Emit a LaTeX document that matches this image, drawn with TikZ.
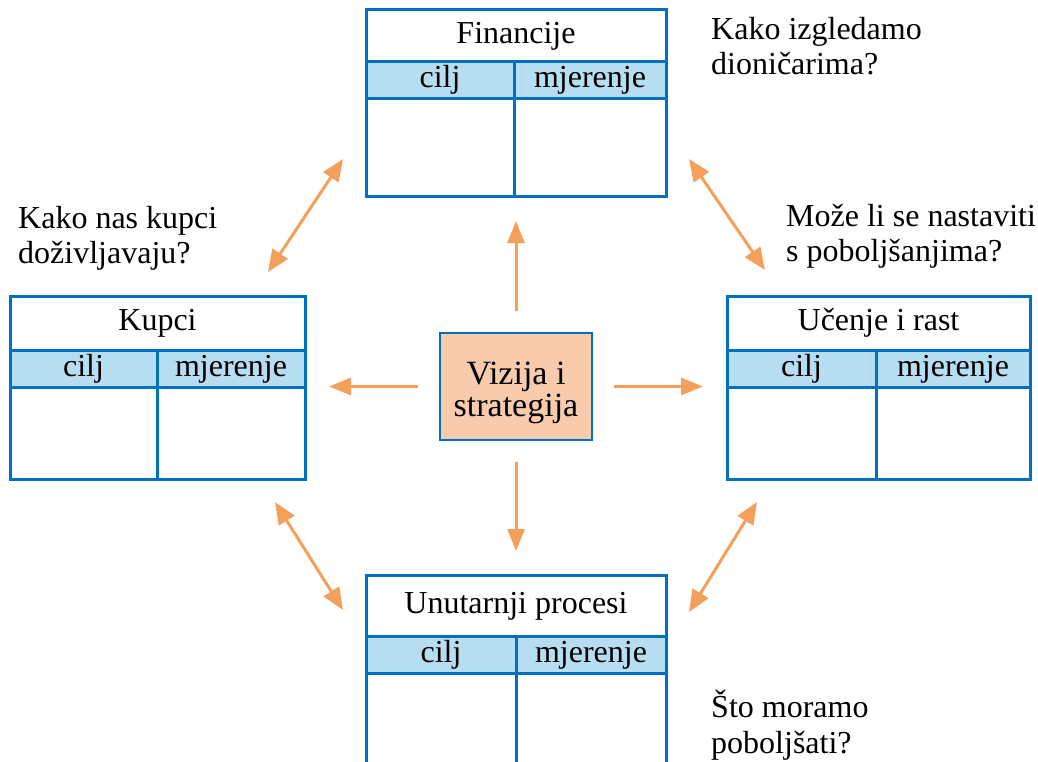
\documentclass[tikz,border=0pt]{standalone}
\usepackage{fontspec}
\setmainfont{Liberation Serif}
\usetikzlibrary{arrows.meta}
\usetikzlibrary{positioning}
\definecolor{bscblue}{RGB}{0,112,192}
\definecolor{bschead}{RGB}{183,222,240}
\definecolor{bscpeach}{RGB}{248,203,173}
\definecolor{bscorange}{RGB}{245,160,90}
\tikzset{
  % one cell of a scorecard table
  cell/.style = {
    draw = bscblue,
    line width = 3pt,
    inner sep = 0,
    outer sep = 0,
    text height = 22pt,
    text depth = 7pt,
    font = \fontsize{32}{37}\selectfont
  },
  % table title
  ttl/.style = {
    cell,
    minimum width = 300pt,
    minimum height = 54pt
  },
  % column header
  head/.style = {
    cell,
    fill = bschead,
    minimum height = 37pt
  },
  % empty body cell
  body/.style = {
    cell,
    minimum height = 94pt
  },
  colL/.style = {minimum width = 148pt},
  colR/.style = {minimum width = 152pt},
  % centre box
  vision/.style = {
    draw = bscblue,
    line width = 2.5pt,
    fill = bscpeach,
    minimum width = 152pt,
    minimum height = 107pt,
    align = center,
    inner sep = 0,
    font = \fontsize{34}{32}\selectfont
  },
  % question beside a table
  quest/.style = {
    align = left,
    anchor = north west,
    inner sep = 0,
    font = \fontsize{32}{35.5}\selectfont
  }
}
\tikzset {
  flow/.style = {
    draw = bscorange,
    line width = 3pt,
    -{Triangle[length=22pt,width=17pt]},
    shorten <= 21pt,
    shorten >= 24pt
  },
  % double headed link between tables
  link/.style = {
    draw = bscorange,
    line width = 3pt,
    {Triangle[length=22pt,width=18pt]}-{Triangle[length=22pt,width=18pt]}
  }
}

\begin{document}
\begin{tikzpicture}[x=1pt, y=1pt]
    \clip (0,0) rectangle (1038,-762);

    % Financije
    \node[ttl, minimum height=52pt] (fin) at (516,-36) {Financije};
    \node[head, colL, below right=0pt and 0pt of fin.south west] (fin-cilj) {cilj};
    \node[head, colR, below left=0pt and 0pt of fin.south east] (fin-mjer) {mjerenje};
    \node[body, colL, minimum height=98pt, below=0pt of fin-cilj] (fin-c) {};
    \node[body, colR, minimum height=98pt, below=0pt of fin-mjer] (fin-m) {};

    % Kupci
    \node[ttl, minimum width=295pt] (kup) at (157.5,-323) {Kupci};
    \node[head, colL, minimum width=147pt, below right=0pt and 0pt of kup.south west] (kup-cilj) {cilj};
    \node[head, colR, minimum width=148pt, below left=0pt and 0pt of kup.south east] (kup-mjer) {mjerenje};
    \node[body, colL, minimum width=147pt, minimum height=92pt, below=0pt of kup-cilj] (kup-c) {};
    \node[body, colR, minimum width=148pt, minimum height=92pt, below=0pt of kup-mjer] (kup-m) {};

    % Ucenje i rast
    \node[ttl, minimum width=303pt] (uce) at (878.5,-323) {Učenje i rast};
    \node[head, colL, minimum width=149pt, below right=0pt and 0pt of uce.south west] (uce-cilj) {cilj};
    \node[head, colR, minimum width=154pt, below left=0pt and 0pt of uce.south east] (uce-mjer) {mjerenje};
    \node[body, colL, minimum width=149pt, minimum height=92pt, below=0pt of uce-cilj] (uce-c) {};
    \node[body, colR, minimum width=154pt, minimum height=92pt, below=0pt of uce-mjer] (uce-m) {};

    % Unutarnji procesi
    \node[ttl, minimum height=61pt] (unu) at (516,-605.5) {Unutarnji procesi};
    \node[head, colL, minimum width=150pt, below right=0pt and 0pt of unu.south west] (unu-cilj) {cilj};
    \node[head, colR, minimum width=150pt, below left=0pt and 0pt of unu.south east] (unu-mjer) {mjerenje};
    \node[body, colL, minimum width=150pt, minimum height=110pt, below=0pt of unu-cilj] (unu-c) {};
    \node[body, colR, minimum width=150pt, minimum height=110pt, below=0pt of unu-mjer] (unu-m) {};

    \node[vision] (viz) at (516,-386.5) {\rule{0pt}{36pt}Vizija i\\strategija};

    \node[quest] (q-fin) at (711,-17) {Kako izgledamo\\dioničarima?};
    \node[quest] (q-kup) at (18,-206) {Kako nas kupci\\doživljavaju?};
    \node[quest] (q-uce) at (786,-204) {Može li se nastaviti\\s poboljšanjima?};
    \node[quest] (q-unu) at (711,-690) {Što moramo\\poboljšati?};

    % ends of the links between tables
    \coordinate (kf-a) at ([shift={(-37,24)}]kup.north east);
    \coordinate (kf-b) at ([shift={(-23,38)}]fin-c.south west);
    \coordinate (fu-a) at ([shift={(23,38)}]fin-m.south east);
    \coordinate (fu-b) at ([shift={(38,26)}]uce.north west);
    \coordinate (ku-a) at ([shift={(-30,-23)}]kup-m.south east);
    \coordinate (ku-b) at ([shift={(-23,-35)}]unu.north west);
    \coordinate (uu-a) at ([shift={(30,-23)}]uce-c.south west);
    \coordinate (uu-b) at ([shift={(23,-37)}]unu.north east);

    \draw[flow] (viz) -- (viz |- fin-c.south);
    \draw[flow] (viz) -- (viz -| kup-m.east);
    \draw[flow] (viz) -- (viz -| uce-c.west);
    \draw[flow] (viz) -- (viz |- unu.north);

    \draw[link] (kf-a) -- (kf-b);
    \draw[link] (fu-a) -- (fu-b);
    \draw[link] (ku-a) -- (ku-b);
    \draw[link] (uu-a) -- (uu-b);
\end{tikzpicture}
\end{document}
